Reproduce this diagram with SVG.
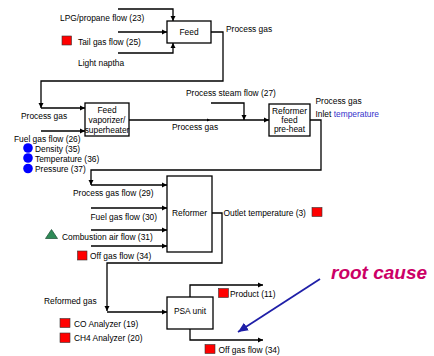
<svg xmlns="http://www.w3.org/2000/svg" width="434" height="356" viewBox="0 0 434 356">
<defs>
<marker id="ah" markerWidth="6" markerHeight="6" refX="5" refY="3" orient="auto" markerUnits="userSpaceOnUse">
<path d="M0,0.5 L5,3 L0,5.5 Z" fill="#000"/>
</marker>
<marker id="bh" markerWidth="12" markerHeight="10" refX="10" refY="5" orient="auto" markerUnits="userSpaceOnUse">
<path d="M0,0.5 L10,5 L0,9.5 Z" fill="#1f1fa8"/>
</marker>
<style>
text{font-family:"Liberation Sans",Arial,sans-serif;font-size:8.4px;fill:#000}
.box{fill:#fff;stroke:#000;stroke-width:1.3}
.c{fill:none;stroke:#000;stroke-width:1.3}
.a{marker-end:url(#ah)}
.red{fill:#ff0000;stroke:#333;stroke-width:0.6}
.blue{fill:#0000ff}
.mid{text-anchor:middle}
</style>
</defs>

<g id="connectors">
<path class="c a" d="M118,9 H173 V21"/>
<path class="c a" d="M118,32 H167"/>
<path class="c a" d="M118,53 H173 V43"/>
<path class="c a" d="M211,32 H223 V81 H41 V108"/>
<path class="c a" d="M41,108 H85"/>
<path class="c a" d="M41,131 H85"/>
<path class="c a" d="M129,120 H269"/>
<path d="M207,118.5 L210,120 L207,121.5 Z" fill="#000"/>
<path class="c a" d="M211,103 H244 V120"/>
<path class="c a" d="M310,120 H321 V170 H91 V185"/>
<path class="c a" d="M91,185 H167"/>
<path class="c a" d="M91,208 H167"/>
<path class="c a" d="M91,230 H167"/>
<path class="c a" d="M91,246 H167"/>
<path class="c a" d="M212,213 H222 V263 H107 V311"/>
<path class="c a" d="M107,312 H167"/>
<path class="c a" d="M190,297 V285 H263"/>
<path class="c a" d="M190,329 V340 H263"/>
<path d="M320,279 L238,332" fill="none" stroke="#1f1fa8" stroke-width="1.8" marker-end="url(#bh)"/>
</g>

<g id="feed">
<rect class="box" x="167" y="21" width="44" height="22"/>
<text class="mid" x="189" y="35">Feed</text>
</g>

<g id="vaporizer">
<rect class="box" x="85" y="103" width="44" height="33"/>
<text class="mid" x="107" y="113">Feed</text>
<text class="mid" x="107" y="123">vaporizer/</text>
<text class="mid" x="107" y="133">superheater</text>
</g>

<g id="preheat">
<rect class="box" x="269" y="104" width="41" height="32"/>
<text class="mid" x="289.5" y="114">Reformer</text>
<text class="mid" x="289.5" y="122.5">feed</text>
<text class="mid" x="289.5" y="131.5">pre-heat</text>
</g>

<g id="reformer">
<rect class="box" x="167" y="176" width="45" height="76"/>
<text class="mid" x="189.5" y="215.5">Reformer</text>
</g>

<g id="psa">
<rect class="box" x="167" y="297" width="46" height="32"/>
<text class="mid" x="190" y="314">PSA unit</text>
</g>

<g id="labels">
<text x="60" y="21">LPG/propane flow (23)</text>
<rect class="red" x="62" y="36" width="9.5" height="9"/>
<text x="78" y="44.5">Tail gas flow (25)</text>
<text x="78" y="66">Light naptha</text>
<text x="226" y="32">Process gas</text>
<text x="21" y="118.5">Process gas</text>
<text x="14" y="142">Fuel gas flow (26)</text>
<circle class="blue" cx="28" cy="148" r="4.8"/>
<circle class="blue" cx="28" cy="158" r="4.8"/>
<circle class="blue" cx="28" cy="168.5" r="4.8"/>
<text x="35" y="151.5">Density (35)</text>
<text x="35" y="161.5">Temperature (36)</text>
<text x="35" y="171.5">Pressure (37)</text>
<text x="172" y="130">Process gas</text>
<text x="186" y="96">Process steam flow (27)</text>
<text x="315.5" y="104">Process gas</text>
<text x="315.5" y="116.5">Inlet <tspan fill="#3333cc">temperature</tspan></text>
<text x="73" y="196">Process gas flow (29)</text>
<text x="90.5" y="219.5">Fuel gas flow (30)</text>
<path d="M45.5,238.5 L51.5,229.5 L57.5,238.5 Z" fill="#2e8b57" stroke="#1a4d33" stroke-width="0.7"/>
<text x="62" y="239.5">Combustion air flow (31)</text>
<rect class="red" x="77.5" y="251" width="9.5" height="9"/>
<text x="90" y="259">Off gas flow (34)</text>
<text x="223.5" y="215.5">Outlet temperature (3)</text>
<rect class="red" x="312" y="207.5" width="10" height="9"/>
<text x="44" y="304">Reformed gas</text>
<rect class="red" x="60" y="318.5" width="10" height="9"/>
<text x="74" y="327">CO Analyzer (19)</text>
<rect class="red" x="60" y="333" width="10" height="9.5"/>
<text x="74" y="341">CH4 Analyzer (20)</text>
<rect class="red" x="218.5" y="288.5" width="10" height="9"/>
<text x="230" y="296.5">Product (11)</text>
<rect class="red" x="205" y="344.5" width="10" height="9"/>
<text x="218.5" y="353">Off gas flow (34)</text>
<text x="331" y="279" style="font-size:19px;font-weight:bold;font-style:italic;fill:#cc0066">root cause</text>
</g>
</svg>
